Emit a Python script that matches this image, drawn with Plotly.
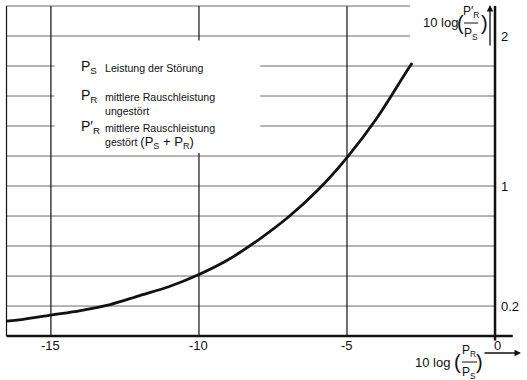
import plotly.graph_objects as go

# ---- data ----
x_vals = [-16.5, -16, -15, -14, -13, -12, -11, -10, -9, -8, -7, -6, -5, -4, -3, -2.8]
y_vals = [0.10, 0.11, 0.14, 0.17, 0.21, 0.27, 0.33, 0.41, 0.51, 0.64, 0.79, 0.97, 1.19, 1.45, 1.76, 1.82]

h_grid = [0.2, 0.4, 0.6, 0.8, 1.0, 1.2, 1.4, 1.6, 1.8, 2.0, 2.2]
v_grid = [-15, -10, -5]
x_ticks = [-15, -10, -5, 0]
x_tick_labels = ["-15", "-10", "-5", "0"]
y_ticks = [0.2, 1, 2]
y_tick_labels = ["0.2", "1", "2"]

legend_syms = ["P<sub>S</sub>", "P<sub>R</sub>", "P′<sub>R</sub>"]
legend_texts = ["Leistung der Störung",
                "mittlere Rauschleistung<br>ungestört",
                "mittlere Rauschleistung<br>gestört <span style='font-size:13px'>(P<sub>S</sub> + P<sub>R</sub>)</span>"]

# ---- geometry ----
W, H = 527, 380
X0, X1 = -16.72, 1.08
Y0, Y1 = -0.293, 2.24
XL, XR = -16.5, 0.0
YT = 2.2

def px(p):
    return p / W
def py(p):
    return 1 - p / H

FONT = "Liberation Sans"
fig = go.Figure()

# horizontal grid lines
gx, gy = [], []
for v in h_grid:
    gx += [XL, XR, None]
    gy += [v, v, None]
fig.add_trace(go.Scatter(x=gx, y=gy, mode="lines",
                         line=dict(color="#6a6a6a", width=1), hoverinfo="skip"))
# vertical grid lines
vx, vy = [], []
for v in v_grid:
    vx += [v, v, None]
    vy += [0, YT, None]
vx += [XL, XL, None]
vy += [0, YT, None]
fig.add_trace(go.Scatter(x=vx, y=vy, mode="lines",
                         line=dict(color="#111", width=1.2), hoverinfo="skip"))
# curve
fig.add_trace(go.Scatter(x=x_vals, y=y_vals, mode="lines", line_shape="spline",
                         line=dict(color="#111", width=2.8), hoverinfo="skip"))

shapes = [
    dict(type="rect", xref="x", yref="y", x0=-14.88, x1=-7.93, y0=1.22, y1=1.97,
         fillcolor="white", line_width=0, layer="above"),
    dict(type="rect", xref="x", yref="y", x0=-2.87, x1=-0.02, y0=1.9, y1=2.3,
         fillcolor="white", line_width=0, layer="above"),
    dict(type="line", xref="x", yref="y", x0=XL, x1=0.6, y0=0, y1=0,
         line=dict(color="#111", width=2.5), layer="above"),
    dict(type="line", xref="x", yref="y", x0=XR, x1=XR, y0=-0.03, y1=YT,
         line=dict(color="#111", width=2.5), layer="above"),
    dict(type="line", xref="paper", yref="paper", x0=px(464), x1=px(478), y0=py(23), y1=py(23),
         line=dict(color="#111", width=1), layer="above"),
    dict(type="line", xref="paper", yref="paper", x0=px(462), x1=px(477), y0=py(362), y1=py(362),
         line=dict(color="#111", width=1), layer="above"),
]

ann = []
for v, t in zip(x_ticks, x_tick_labels):
    ann.append(dict(x=v + (0.1 if v == 0 else 0), y=-0.06, xref="x", yref="y", text=t,
                    showarrow=False, xanchor="center", yanchor="middle",
                    font=dict(size=13, family=FONT, color="#111")))
for v, t in zip(y_ticks, y_tick_labels):
    ann.append(dict(x=0.13, y=v, xref="x", yref="y", text=t, showarrow=False,
                    xanchor="left", yanchor="middle",
                    font=dict(size=13, family=FONT, color="#111")))
leg_y = [67, 96, 127]
for s, t, yy in zip(legend_syms, legend_texts, leg_y):
    ann.append(dict(x=px(79), y=py(yy), xref="paper", yref="paper", text=s, showarrow=False,
                    xanchor="left", yanchor="middle",
                    font=dict(size=14, family=FONT, color="#111")))
    ann.append(dict(x=px(103), y=py(yy - 7), xref="paper", yref="paper", text=t, showarrow=False,
                    xanchor="left", yanchor="top", align="left",
                    font=dict(size=10.6, family=FONT, color="#111")))

def axis_label(x_left, yc, num, den, paren_x, close_x, frac_x):
    out = []
    out.append(dict(x=px(x_left), y=py(yc), xref="paper", yref="paper", text="10 log",
                    showarrow=False, xanchor="left", yanchor="middle",
                    font=dict(size=13, family=FONT, color="#111")))
    out.append(dict(x=px(paren_x), y=py(yc), xref="paper", yref="paper", text="(",
                    showarrow=False, xanchor="center", yanchor="middle",
                    font=dict(size=20, family=FONT, color="#111")))
    out.append(dict(x=px(close_x), y=py(yc), xref="paper", yref="paper", text=")",
                    showarrow=False, xanchor="center", yanchor="middle",
                    font=dict(size=20, family=FONT, color="#111")))
    out.append(dict(x=px(frac_x), y=py(yc - 1), xref="paper", yref="paper", text=num,
                    showarrow=False, xanchor="center", yanchor="bottom",
                    font=dict(size=12, family=FONT, color="#111")))
    out.append(dict(x=px(frac_x), y=py(yc + 1), xref="paper", yref="paper", text=den,
                    showarrow=False, xanchor="center", yanchor="top",
                    font=dict(size=12, family=FONT, color="#111")))
    return out

ann += axis_label(421, 23, "P′<sub>R</sub>", "P<sub>S</sub>", 460, 484, 471)
ann += axis_label(413, 362, "P<sub>R</sub>", "P<sub>S</sub>", 457, 479, 469)

ann.append(dict(x=px(490), y=py(5), xref="paper", yref="paper", text="", showarrow=True,
                ax=0, ay=42, arrowhead=2, arrowsize=1, arrowwidth=1.3, arrowcolor="#111"))
ann.append(dict(x=px(521), y=py(353), xref="paper", yref="paper", text="", showarrow=True,
                ax=-38, ay=0, arrowhead=2, arrowsize=1, arrowwidth=1.3, arrowcolor="#111"))

fig.update_layout(
    width=W, height=H, autosize=False,
    margin=dict(l=0, r=0, t=0, b=0),
    paper_bgcolor="white", plot_bgcolor="white",
    showlegend=False,
    xaxis=dict(range=[X0, X1], visible=False, fixedrange=True),
    yaxis=dict(range=[Y0, Y1], visible=False, fixedrange=True),
    shapes=shapes, annotations=ann,
)
fig.write_html("out.html", config={"displayModeBar": False},
               post_script="document.body.style.margin='0';document.body.style.overflow='hidden';")
